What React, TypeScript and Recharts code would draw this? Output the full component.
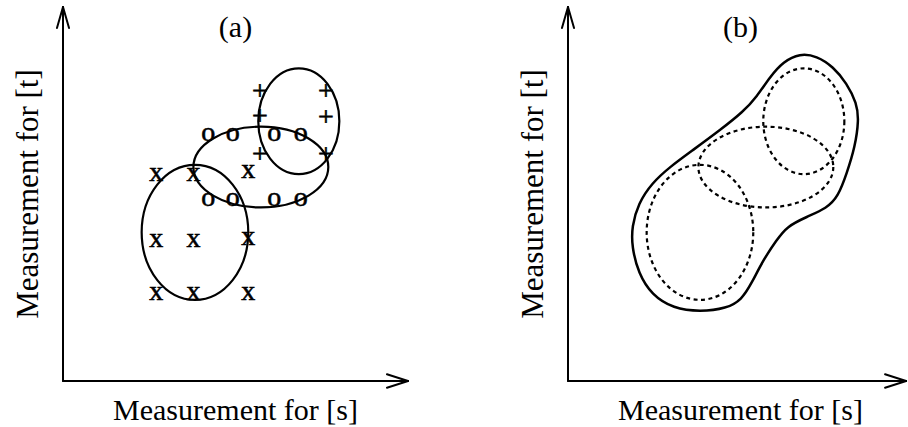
import { ScatterChart, Scatter, XAxis, YAxis, ReferenceArea, ReferenceLine } from 'recharts'

const FONT = "'Liberation Serif', 'Times New Roman', serif"

// class "x" samples: measurement for [s] / measurement for [t]
const CROSS_S = [27.0, 37.8, 53.7, 27.0, 37.8, 53.7, 27.0, 37.8, 53.7]
const CROSS_T = [55.3, 55.3, 56.0, 37.7, 37.7, 38.2, 23.4, 23.4, 23.4]

// class "o" samples
const CIRCLE_S = [42.1, 49.2, 61.2, 68.9, 42.1, 49.2, 61.2, 68.9]
const CIRCLE_T = [66.0, 66.0, 66.0, 66.0, 48.4, 48.4, 48.4, 48.4]

// class "+" samples
const PLUS_S = [57.1, 76.2, 57.1, 76.2, 57.1, 76.2]
const PLUS_T = [76.9, 76.9, 70.2, 70.0, 60.0, 60.0]

// fitted class regions, [sMin, sMax, tMin, tMax]
const REGION_CROSS = [22.8, 53.7, 21.7, 57.8]
const REGION_CIRCLE = [37.8, 76.9, 46.4, 68.0]
const REGION_PLUS = [56.6, 80.1, 55.3, 83.6]
const REGIONS = [REGION_CROSS, REGION_CIRCLE, REGION_PLUS]

// merged boundary in panel (b), traced clockwise from the top
const BOUNDARY_S = [
  67.2, 72.1, 76.9, 80.8, 83.7, 84.3, 83.2, 80.8, 78.3, 75.0, 69.2, 63.4, 60.5, 56.6, 53.2, 50.3,
  46.0, 38.3, 30.5, 24.3, 20.4, 18.5, 18.5, 20.4, 24.3, 29.6, 36.3, 44.1, 50.8, 54.7, 58.6, 62.4,
]
const BOUNDARY_T = [
  87.6, 86.9, 84.0, 79.6, 74.3, 69.8, 62.6, 55.5, 49.3, 46.2, 43.9, 41.3, 37.7, 32.4, 26.1, 21.7,
  19.4, 18.5, 19.4, 23.0, 28.8, 35.9, 41.3, 47.5, 52.9, 57.3, 61.8, 67.1, 72.0, 76.0, 81.4, 85.4,
]

const toPoints = (s: number[], t: number[]) => s.map((v, i) => ({ s: v, t: t[i] }))

const W = 454
const H = 427
const MARGIN = { top: 7, right: 46, bottom: 46, left: 63 }
const PLOT_W = W - MARGIN.left - MARGIN.right
const PLOT_H = H - MARGIN.top - MARGIN.bottom

const glyph = (ch: string) => (p: any) => (
  <text
    x={p.cx}
    y={p.cy + 6.5}
    textAnchor="middle"
    fontFamily={FONT}
    fontSize={28}
    fill="#000"
    stroke="#000"
    strokeWidth={0.6}
  >
    {ch}
  </text>
)

const ellipse = (dashed: boolean) => (p: any) => {
  const w = Math.abs(p.width)
  const h = Math.abs(p.height)
  const x = Math.min(p.x, p.x + p.width)
  const y = Math.min(p.y, p.y + p.height)
  return (
    <ellipse
      cx={x + w / 2}
      cy={y + h / 2}
      rx={w / 2}
      ry={h / 2}
      fill="none"
      stroke="#000"
      strokeWidth={dashed ? 2.2 : 2.2}
      strokeDasharray={dashed ? '4 3.5' : undefined}
    />
  )
}

function axisLines(xTip: number) {
  const seg = (a: [number, number], b: [number, number], k: string) => (
    <ReferenceLine
      key={k}
      segment={[{ x: a[0], y: a[1] }, { x: b[0], y: b[1] }]}
      stroke="#000"
      strokeWidth={2}
      strokeLinecap="round"
      ifOverflow="visible"
    />
  )
  return [
    seg([0, 0], [xTip, 0], 'xa'),
    seg([xTip - 6.1, 1.8], [xTip, 0], 'xh1'),
    seg([xTip - 6.1, -1.8], [xTip, 0], 'xh2'),
    seg([0, 0], [0, 100], 'ya'),
    seg([-1.75, 94.4], [0, 100], 'yh1'),
    seg([1.75, 94.4], [0, 100], 'yh2'),
  ]
}

function Panel({ title, xTip, merged }: { title: string; xTip: number; merged: boolean }) {
  const cx = MARGIN.left + PLOT_W / 2
  const cy = MARGIN.top + PLOT_H / 2
  return (
    <ScatterChart width={W} height={H} margin={MARGIN} style={{ overflow: 'visible' }}>
      <XAxis type="number" dataKey="s" domain={[0, 100]} hide />
      <YAxis type="number" dataKey="t" domain={[0, 100]} hide />
      {axisLines(xTip)}
      {REGIONS.map((r, i) => (
        <ReferenceArea
          key={i}
          x1={r[0]}
          x2={r[1]}
          y1={r[2]}
          y2={r[3]}
          ifOverflow="visible"
          shape={ellipse(merged)}
        />
      ))}
      {!merged && (
        <Scatter data={toPoints(CROSS_S, CROSS_T)} shape={glyph('x')} isAnimationActive={false} />
      )}
      {!merged && (
        <Scatter data={toPoints(CIRCLE_S, CIRCLE_T)} shape={glyph('o')} isAnimationActive={false} />
      )}
      {!merged && (
        <Scatter data={toPoints(PLUS_S, PLUS_T)} shape={glyph('+')} isAnimationActive={false} />
      )}
      {merged && (
        <Scatter
          data={toPoints(BOUNDARY_S, BOUNDARY_T)}
          line={{ stroke: '#000', strokeWidth: 2.5, fill: 'none' }}
          lineJointType="basisClosed"
          shape={() => <g />}
          isAnimationActive={false}
        />
      )}
      <text x={cx} y={37} textAnchor="middle" fontFamily={FONT} fontSize={30} fill="#000">
        {title}
      </text>
      <text x={cx} y={420} textAnchor="middle" fontFamily={FONT} fontSize={30} fill="#000">
        Measurement for [s]
      </text>
      <text
        x={0}
        y={0}
        transform={`translate(38, ${cy}) rotate(-90)`}
        textAnchor="middle"
        fontFamily={FONT}
        fontSize={31}
        fill="#000"
      >
        Measurement for [t]
      </text>
    </ScatterChart>
  )
}

export default function App() {
  return (
    <div
      style={{
        position: 'absolute',
        left: 0,
        top: 0,
        width: 908,
        height: 427,
        overflow: 'hidden',
        background: '#fff',
      }}
    >
      <div style={{ position: 'absolute', left: 0, top: 0 }}>
        <Panel title="(a)" xTip={100} merged={false} />
      </div>
      <div style={{ position: 'absolute', left: 505, top: 0 }}>
        <Panel title="(b)" xTip={98} merged={true} />
      </div>
    </div>
  )
}
